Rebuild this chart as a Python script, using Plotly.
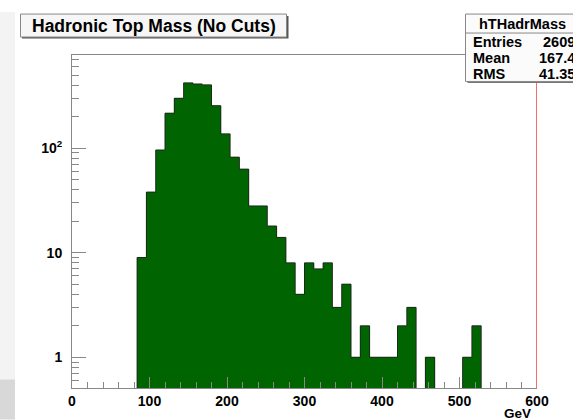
import plotly.graph_objects as go

# Histogram hTHadrMass: 50 bins of 12 GeV from 0 to 600 GeV
bin_lo = 0.0
bin_width = 12.0
counts = [0, 0, 0, 0, 0, 0, 0, 9, 38, 96,
          216, 300, 421, 411, 403, 255, 137, 82, 63, 28,
          28, 18, 14, 8, 4, 8, 7, 8, 3, 5,
          1, 2, 1, 1, 1, 2, 3, 0, 1, 0,
          0, 0, 1, 2, 0, 0, 0, 0, 0, 0]

title_text = "Hadronic Top Mass (No Cuts)"
stats_name = "hTHadrMass"
stats_rows = [("Entries", "2609"), ("Mean", "167.4"), ("RMS", "41.35")]

x_ticks = [0, 100, 200, 300, 400, 500, 600]
y_tickvals = [1, 10, 100]
y_ticktext = ["1", "10", "10<sup>2</sup>"]
x_title = "GeV"

# Page geometry (pixels)
W, H = 573, 420
L, R, T, B = 72, 537, 55, 388.5


def px(x):
    return (x - L) / (R - L)


def py(y):
    return (B - y) / (B - T)


edges = [bin_lo + i * bin_width for i in range(len(counts) + 1)]
centers = [e + bin_width / 2 for e in edges[:-1]]

# outline of the histogram envelope; empty bins drop below the visible range
floor = 0.1
step_y = [c if c > 0 else floor for c in counts]
step_y = step_y + [step_y[-1]]

green = "#006400"
font = "Liberation Sans, Arial, sans-serif"

fig = go.Figure()
fig.add_trace(go.Bar(x=centers, y=[c if c > 0 else None for c in counts],
                     width=bin_width, marker=dict(color=green, line=dict(width=0)),
                     hoverinfo="skip"))
fig.add_trace(go.Scatter(x=edges, y=step_y, mode="lines",
                         line=dict(color="#1c2a1c", width=1, shape="hv"),
                         hoverinfo="skip"))

fig.update_layout(
    width=W, height=H,
    margin=dict(l=L, r=W - R, t=T, b=H - B),
    paper_bgcolor="white", plot_bgcolor="white",
    showlegend=False, bargap=0,
    font=dict(family=font, color="black"),
)

fig.update_xaxes(
    range=[0, 600], tickvals=x_ticks, ticks="inside", ticklen=11,
    tickcolor="#888888", tickwidth=1,
    minor=dict(dtick=20, ticks="inside", ticklen=6, tickcolor="#888888"),
    showline=True, linecolor="#888888", linewidth=1, mirror=True,
    showgrid=False, zeroline=False,
    tickfont=dict(family=font, size=14, color="black", weight="bold"),
)
fig.update_yaxes(
    type="log", range=[-0.294, 2.891],
    tickvals=y_tickvals, ticktext=y_ticktext,
    ticks="inside", ticklen=14, tickcolor="#888888", tickwidth=1,
    minor=dict(dtick="D1", ticks="inside", ticklen=7, tickcolor="#888888"),
    showline=True, linecolor="#888888", linewidth=1,
    showgrid=False, zeroline=False,
    tickfont=dict(family=font, size=14, color="black", weight="bold"),
    ticklabelstandoff=6,
)

shapes = []
# red edge at the upper end of the axis
shapes.append(dict(type="line", xref="x", yref="paper", x0=600, x1=600, y0=0, y1=1,
                   line=dict(color="#f02020", width=1.3)))
# grey strip along the left edge of the canvas
shapes.append(dict(type="rect", xref="paper", yref="paper", x0=px(0), x1=px(15),
                   y0=py(420), y1=py(12), fillcolor="#f3f3f3", line=dict(width=0),
                   layer="below"))
shapes.append(dict(type="rect", xref="paper", yref="paper", x0=px(0), x1=px(15),
                   y0=py(420), y1=py(380), fillcolor="#d8d8d8", line=dict(width=0),
                   layer="below"))
# title box with shadow
shapes.append(dict(type="rect", xref="paper", yref="paper", x0=px(22), x1=px(288.5),
                   y0=py(38.5), y1=py(16), fillcolor="#555555", line=dict(width=0)))
shapes.append(dict(type="rect", xref="paper", yref="paper", x0=px(20.5), x1=px(286.5),
                   y0=py(37), y1=py(14), fillcolor="#f6f6f6",
                   line=dict(color="#888888", width=1)))
# statistics box with shadow
shapes.append(dict(type="rect", xref="paper", yref="paper", x0=px(467.5), x1=px(600),
                   y0=py(83), y1=py(16), fillcolor="#777777", line=dict(width=0)))
shapes.append(dict(type="rect", xref="paper", yref="paper", x0=px(465.5), x1=px(598),
                   y0=py(81.5), y1=py(14), fillcolor="#fbfbfb",
                   line=dict(color="#888888", width=1)))
shapes.append(dict(type="line", xref="paper", yref="paper", x0=px(465.5), x1=px(598),
                   y0=py(33), y1=py(33), line=dict(color="#888888", width=1)))
fig.update_layout(shapes=shapes)

ann = []
ann.append(dict(xref="paper", yref="paper", x=px(154), y=py(26), text=title_text,
                showarrow=False, xanchor="center", yanchor="middle",
                font=dict(family=font, size=17.5, color="black", weight="bold")))
ann.append(dict(xref="paper", yref="paper", x=px(522), y=py(23.5), text=stats_name,
                showarrow=False, xanchor="center", yanchor="middle",
                font=dict(family=font, size=14.5, color="black", weight="bold")))
for i, (k, v) in enumerate(stats_rows):
    yy = 41.5 + i * 16.5
    ann.append(dict(xref="paper", yref="paper", x=px(471), y=py(yy), text=k,
                    showarrow=False, xanchor="left", yanchor="middle",
                    font=dict(family=font, size=14.5, color="black", weight="bold")))
    ann.append(dict(xref="paper", yref="paper", x=px(577), y=py(yy), text=v,
                    showarrow=False, xanchor="right", yanchor="middle",
                    font=dict(family=font, size=14.5, color="black", weight="bold")))
ann.append(dict(xref="paper", yref="paper", x=px(533), y=py(414), text=x_title,
                showarrow=False, xanchor="right", yanchor="middle",
                font=dict(family=font, size=13.5, color="black", weight="bold")))
fig.update_layout(annotations=ann)

fig.write_html("out.html")
